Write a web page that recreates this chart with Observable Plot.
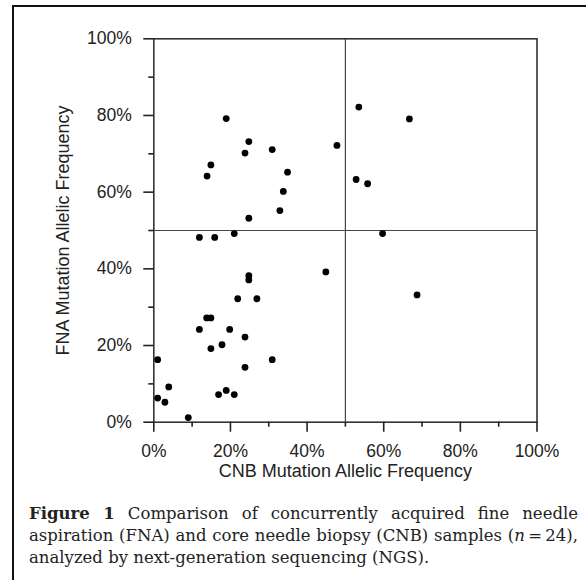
<!DOCTYPE html>
<html>
<head>
<meta charset="utf-8">
<script src="https://cdn.jsdelivr.net/npm/d3@7"></script>
<script src="https://cdn.jsdelivr.net/npm/@observablehq/plot@0.6"></script>
<style>
  html, body { margin: 0; padding: 0; background: #fff; width: 586px; height: 580px; overflow: hidden; }
  #wrap { position: relative; width: 586px; height: 580px; }
  #frame { position: absolute; left: 12px; top: 5px; width: 700px; height: 700px;
           border-left: 2px solid #111; border-top: 2px solid #111; box-sizing: border-box; }
  #chart { position: absolute; left: 0; top: 0; }
  #caption { position: absolute; left: 29px; top: 503px; width: 549px;
             font-family: "DejaVu Serif", serif; font-size: 16.5px; line-height: 22px; color: #222; }
  #caption div.j { text-align: justify; text-align-last: justify; }
  #caption b { font-weight: bold; }
</style>
</head>
<body>
<div id="wrap">
  <div id="frame"></div>
  <div id="chart"></div>
  <div id="caption">
    <div class="j"><b>Figure 1</b> Comparison of concurrently acquired fine needle</div>
    <div class="j">aspiration (FNA) and core needle biopsy (CNB) samples (<i>n</i>&#8201;=&#8201;24),</div>
    <div>analyzed by next-generation sequencing (NGS).</div>
  </div>
</div>
<script>
// CNB mutation allelic frequency (%) vs FNA mutation allelic frequency (%)
const cnb = [18.9, 24.8, 23.8, 30.9, 47.8, 14.9, 13.9, 34.9, 33.8, 32.9, 24.8,
             53.5, 52.8, 66.7, 55.8,
             11.9, 15.9, 21.0, 59.7, 44.9, 24.8, 24.8, 21.9, 26.9, 13.8, 14.9,
             11.9, 19.8, 23.8, 17.8, 14.9, 1.0, 30.9, 23.8, 3.9, 1.0, 2.9,
             16.9, 18.9, 21.0, 9.0, 68.7];
const fna = [79.2, 73.2, 70.2, 71.1, 72.2, 67.1, 64.2, 65.2, 60.2, 55.2, 53.2,
             82.2, 63.3, 79.1, 62.2,
             48.2, 48.2, 49.2, 49.2, 39.2, 38.2, 37.1, 32.2, 32.2, 27.2, 27.2,
             24.2, 24.2, 22.2, 20.2, 19.2, 16.3, 16.3, 14.3, 9.2, 6.3, 5.2,
             7.2, 8.3, 7.2, 1.2, 33.2];
const majorTicks = [0, 20, 40, 60, 80, 100];
const minorTicks = [10, 30, 50, 70, 90];
const thresholds = [50];
const xTitle = "CNB Mutation Allelic Frequency";
const yTitle = "FNA Mutation Allelic Frequency";

const points = cnb.map((c, i) => ({cnb: c, fna: fna[i]}));
const pct = d => d + "%";
const font = "Liberation Sans, Arial, Helvetica, sans-serif";

const chart = Plot.plot({
  width: 586,
  height: 500,
  marginLeft: 153.3,
  marginRight: 49.5,
  marginTop: 38.3,
  marginBottom: 78.3,
  style: {fontFamily: font, fontSize: "17.5px", color: "#222", background: "transparent", overflow: "visible"},
  x: {domain: [0, 100], label: null},
  y: {domain: [0, 100], label: null},
  marks: [
    Plot.ruleX(thresholds, {stroke: "#444", strokeWidth: 1.2}),
    Plot.ruleY(thresholds, {stroke: "#444", strokeWidth: 1.2}),
    Plot.frame({stroke: "#333", strokeWidth: 1.6}),
    Plot.axisX(majorTicks, {tickSize: 10, tickPadding: 12, tickFormat: pct, label: null, strokeWidth: 1.6, fontSize: 17.5}),
    Plot.axisX(minorTicks, {tickSize: 5, tickFormat: () => "", label: null, strokeWidth: 1.6}),
    Plot.axisY(majorTicks, {tickSize: 10, tickPadding: 12, tickFormat: pct, label: null, strokeWidth: 1.6, fontSize: 17.5}),
    Plot.axisY(minorTicks, {tickSize: 5, tickFormat: () => "", label: null, strokeWidth: 1.6}),
    Plot.dot(points, {x: "cnb", y: "fna", r: 3.4, fill: "#000", stroke: null}),
    Plot.text([xTitle], {frameAnchor: "bottom", dy: 55, fontSize: 18, fill: "#222", textAnchor: "middle"}),
    Plot.text([yTitle], {frameAnchor: "left", dx: -91, rotate: -90, fontSize: 18, fill: "#222", textAnchor: "middle"})
  ]
});
document.getElementById("chart").appendChild(chart);
</script>
</body>
</html>
